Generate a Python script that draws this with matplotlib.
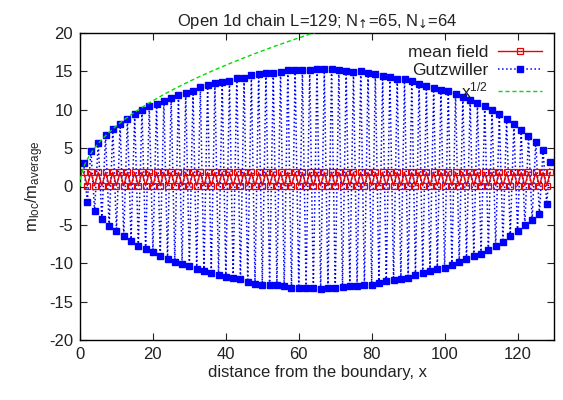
import numpy as np
import matplotlib
matplotlib.use("Agg")
import matplotlib.pyplot as plt

plt.rcParams['font.family'] = ['Liberation Sans', 'DejaVu Sans']
plt.rcParams['mathtext.fontset'] = 'custom'
plt.rcParams['mathtext.rm'] = 'Liberation Sans'
plt.rcParams['mathtext.it'] = 'Liberation Sans'
plt.rcParams['mathtext.sf'] = 'DejaVu Sans'
plt.rcParams['mathtext.fallback'] = 'stixsans'
plt.rcParams['axes.unicode_minus'] = False

# Gutzwiller: odd sites (positive) and even sites (negative)
gw_odd = [3.05, 4.69, 5.73, 6.69, 7.51, 8.2, 8.81, 9.47, 9.99, 10.47, 10.77, 11.16,
          11.59, 11.94, 12.24, 12.5, 12.9, 13.24, 13.54, 13.63, 13.8, 14.11,
          14.11, 14.54, 14.71, 14.84, 14.84, 14.93, 15.15, 15.15, 15.15, 15.15,
          15.28, 15.33, 15.28, 15.15, 15.1, 14.93, 15.02, 14.84, 14.67, 14.45, 14.32,
          14.06, 14.02, 13.72, 13.41, 13.15, 12.89, 12.63, 12.46, 12.07, 11.72,
          11.33, 10.9, 10.51, 9.99, 9.47, 8.81, 8.12, 7.38, 6.64, 5.86, 4.78, 3.18]
gw_even = [-2.04, -3.17, -4.22, -5.13, -5.78, -6.48, -7.13, -7.74, -8.13, -8.52,
           -9.05, -9.44, -9.78, -10.13, -10.35, -10.74, -11.0, -11.31, -11.53,
           -11.79, -11.96, -12.11, -12.39, -12.66, -12.79, -12.79, -12.79, -12.96,
           -13.17, -13.17, -13.17, -13.22, -13.35, -13.26, -13.22, -13.04, -13.0,
           -13.0, -12.87, -12.79, -12.57, -12.35, -12.13, -12.02, -11.92, -11.54,
           -11.23, -10.97, -10.72, -10.64, -10.21, -9.82, -9.49, -9.01, -8.76,
           -8.24, -7.77, -7.18, -6.49, -5.81, -5.08, -4.36, -3.59, -2.26]
# Mean field: odd sites high, even sites low
mf_odd = [1.85] * 65
mf_even = [0.1] * 64
sqrt_coef = 2.5

L = 129
sites = np.arange(1, L + 1)
gw = np.empty(L)
gw[0::2] = gw_odd
gw[1::2] = gw_even
mf = np.empty(L)
mf[0::2] = mf_odd
mf[1::2] = mf_even

fig = plt.figure(figsize=(5.63, 4.0), dpi=100)
ax = fig.add_axes([80/563, 1-340/400, (554-80)/563, (340-33)/400])

ax.plot(sites, mf, color='#ee0000', lw=1.0, marker='s', ms=4, mfc='none',
        mec='#ee0000', mew=0.9, label='mean field', zorder=3)
ax.plot(sites, gw, color='#0000ff', lw=1.1, ls=':', marker='s', ms=4.2,
        mfc='#0000ff', mec='#0000ff', label='Gutzwiller', zorder=2)
xs = np.linspace(0, 130, 600)
ax.plot(xs, sqrt_coef * np.sqrt(xs), color='#00dd00', lw=1.0, ls=(0, (3, 2)),
        label='x$^{1/2}$', zorder=4)

ax.set_xlim(0, 130)
ax.set_ylim(-20, 20)
ax.set_xticks(np.arange(0, 121, 20))
ax.set_yticks(np.arange(-20, 21, 5))
ax.tick_params(direction='in', top=True, right=True, length=5, labelsize=12,
               colors='#222222', labelcolor='#222222', pad=5)
for s in ax.spines.values():
    s.set_linewidth(1.0)

ax.set_title('Open 1d chain L=129; N$_{\\mathsf{\u2191}}$=65, N$_{\\mathsf{\u2193}}$=64',
             fontsize=12, color='#222222', pad=5)
ax.set_xlabel('distance from the boundary, x', fontsize=12, color='#222222', labelpad=2)
ax.set_ylabel('m$_{loc}$/m$_{average}$', fontsize=12, color='#222222', labelpad=2)

leg = ax.legend(loc='upper right', frameon=False, markerfirst=False, fontsize=12.5,
                handlelength=2.5, borderaxespad=0.3, labelspacing=0.15,
                handletextpad=0.6)
for t in leg.get_texts():
    t.set_color('#222222')

fig.savefig('out.png', dpi=100)
